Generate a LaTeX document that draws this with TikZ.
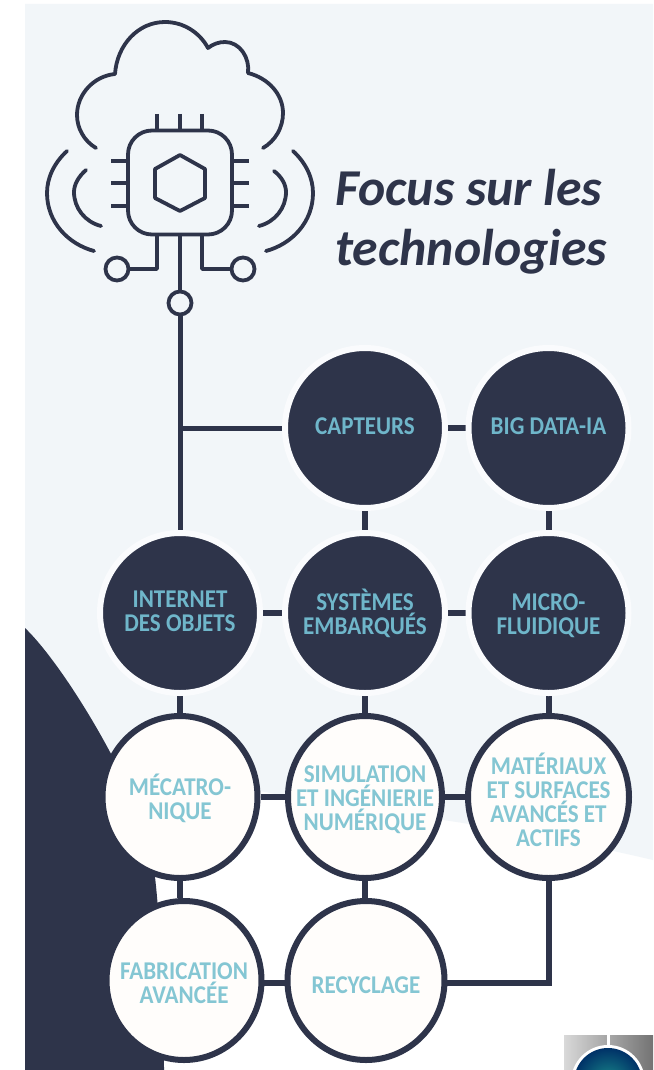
\documentclass[tikz,border=0pt]{standalone}
\usepackage{fontspec}
\setmainfont{Carlito}
\newfontfamily\lblfont[FakeStretch=0.9]{Carlito}
\usetikzlibrary{shapes.geometric}
\pgfdeclarelayer{back}
\pgfdeclarelayer{conn}
\pgfsetlayers{back,conn,main}
\def\px{0.75pt}
\definecolor{ink}{HTML}{2E344A}
\definecolor{pale}{HTML}{F2F6F9}
\definecolor{halo}{HTML}{FAFBFD}
\definecolor{tealdark}{HTML}{6FB6CA}
\definecolor{teallight}{HTML}{84C6D3}
\definecolor{paper}{HTML}{FFFDFB}
\newcommand\lb[2][0]{\makebox[0pt]{\smash{\raisebox{\dimexpr 0.75pt*#1 -3pt\relax}{$\vcenter{\offinterlineskip\let\\\cr\halign{\hfil\vrule height 13.5pt depth 4.5pt width 0pt\smash{##}\hfil\cr #2\crcr}}$}}}}
\tikzset{
  labelfont/.style={font=\lblfont\fontsize{19.2}{18}\selectfont\bfseries},
  darkc/.style={circle,fill=ink,draw=halo,line width=6*\px,minimum size=160*\px,inner sep=0pt,text=tealdark,labelfont},
  lightc/.style={ellipse,fill=paper,draw=ink,line width=6*\px,inner sep=0pt,text=teallight,labelfont},
  link/.style={draw=ink,line width=6*\px},
  icon/.style={draw=ink,line width=3.8*\px,line cap=round,line join=round},
  pin/.style={circle,draw=ink,line width=3.8*\px,minimum size=23*\px,inner sep=0pt},
  titletext/.style={anchor=base west,inner sep=0pt,text=ink,font=\fontsize{38.8}{39}\selectfont\bfseries\itshape},
}
\begin{document}
\begin{tikzpicture}[x=0.75pt,y=-0.75pt]
\useasboundingbox (0,0) rectangle (653,1070);
\begin{pgfonlayer}{back}
  \fill[white] (0,0) rectangle (653,1070);
  \fill[pale] (25,4) -- (653,4) -- (653,860) .. controls (590,845) and (510,830) .. (450,821)
     .. controls (380,811) and (320,803) .. (270,793) -- (110,760) -- (25,700) -- cycle;
  \fill[ink] (25,628) .. controls (50,652) and (85,705) .. (110,752) .. controls (135,800) and (150,840) .. (155,877)
     .. controls (160,920) and (164,1000) .. (164,1070) -- (25,1070) -- cycle;
  % logo
  \begin{scope}
    \clip (564,1035) rectangle (653,1070);
    \shade[left color=black!15,right color=black!35] (564,1035) rectangle (607,1070);
    \shade[left color=black!35,right color=black!55] (610,1035) rectangle (653,1070);
    \fill[white] (607,1035) rectangle (610,1046);
    \fill[white] (608,1082) circle (37);
    \shade[inner color=teal!60!cyan!70!black!90,outer color=teal!65!blue!60!black] (608,1082) circle (34);
  \end{scope}
\end{pgfonlayer}

% icon
\draw[icon] (96,148) .. controls (84,141) and (77,128) .. (77,115) .. controls (77,94) and (94,76) .. (115,74)
  .. controls (117,45) and (138,22) .. (165,22) .. controls (184,22) and (200,33) .. (208,48)
  .. controls (213,44) and (219,42) .. (225,42) .. controls (240,42) and (250,58) .. (248,73)
  .. controls (268,78) and (283,94) .. (283,113) .. controls (283,128) and (275,141) .. (263,148);
\draw[icon] (67,151) .. controls (54,163) and (47,178) .. (47,193) .. controls (47,222) and (68,244) .. (94,251);
\draw[icon] (86,170) .. controls (78,177) and (74,185) .. (74,192) .. controls (74,208) and (85,222) .. (101,226);
\draw[icon] (293,151) .. controls (306,163) and (313,178) .. (313,193) .. controls (313,222) and (292,244) .. (266,251);
\draw[icon] (274,171) .. controls (282,177) and (286,185) .. (286,192) .. controls (286,208) and (275,222) .. (259,226);
\node[rectangle,draw=ink,line width=3.8*\px,rounded corners=24*\px,minimum size=104*\px,inner sep=0pt] (chip) at (180,182.5) {};
\draw[icon] (180,155) -- (205,169) -- (205,198) -- (180,211) -- (155,198) -- (155,169) -- cycle;
\foreach \x in {157,180,202} \draw[icon,line cap=butt] (\x,114) -- (\x,130);
\foreach \y in {161,183,206} {
  \draw[icon,line cap=butt] (111,\y) -- (128,\y);
  \draw[icon,line cap=butt] (232,\y) -- (249,\y);
}
\node[pin] (pinl) at (117,269) {};
\node[pin] (pinr) at (243,269) {};
\node[pin] (pinb) at (180,303) {};
\draw[icon,line cap=butt] (157,235) |- (pinl);
\draw[icon,line cap=butt] (202,235) |- (pinr);
\draw[icon,line cap=butt] (180,235) -- (pinb);

% title
\node[titletext] (t1) at (335,205) {Focus sur les};
\node[titletext] (t2) at (335,265) {technologies};

% nodes
\node[darkc] (cap) at (365,428) {\lb[-3]{CAPTEURS}};
\node[darkc] (big) at (548.5,428) {\lb[-3]{BIG DATA-IA}};
\node[darkc] (iot) at (180,613) {\lb[-3]{INTERNET\\DES OBJETS}};
\node[darkc] (sys) at (365,613) {\lb[-6]{SYSTÈMES\\EMBARQUÉS}};
\node[darkc] (mic) at (548.5,613) {\lb[-6]{MICRO-\\FLUIDIQUE}};
\node[lightc,minimum width=155*\px,minimum height=162*\px] (mec) at (180,797) {\lb[-7]{MÉCATRO-\\NIQUE}};
\node[lightc,minimum width=154*\px,minimum height=162*\px] (sim) at (365,797) {\lb[-6]{SIMULATION\\ET INGÉNIERIE\\NUMÉRIQUE}};
\node[lightc,minimum width=161*\px,minimum height=162*\px] (mat) at (548.5,797) {\lb[-10]{MATÉRIAUX\\ET SURFACES\\AVANCÉS ET\\ACTIFS}};
\node[lightc,minimum width=155*\px,minimum height=159*\px] (fab) at (184,980.5) {\lb[-8]{FABRICATION\\AVANCÉE}};
\node[lightc,minimum width=157*\px,minimum height=159*\px] (rec) at (366,980.5) {\lb[-10]{RECYCLAGE}};

% connectors
\begin{pgfonlayer}{conn}
  \draw[link,line width=5*\px] (pinb) -- (iot);
  \draw[link,line width=5*\px] (cap -| pinb) -- (cap);
  \draw[link] (cap) -- (big);
  \draw[link] (cap) -- (sys);
  \draw[link] (big) -- (mic);
  \draw[link] (iot) -- (sys);
  \draw[link] (sys) -- (mic);
  \draw[link] (iot) -- (mec);
  \draw[link] (sys) -- (sim);
  \draw[link] (mic) -- (mat);
  \draw[link] (mec) -- (sim);
  \draw[link] (sim) -- (mat);
  \draw[link] (mec.south) -- (mec.south |- fab.north);
  \draw[link] (sim.south) -- (sim.south |- rec.north);
  \draw[link] (fab.center |- 0,983) -- (rec.center |- 0,983);
  \draw[link] (rec.center |- 0,983) -| (mat);
\end{pgfonlayer}
\end{tikzpicture}
\end{document}
